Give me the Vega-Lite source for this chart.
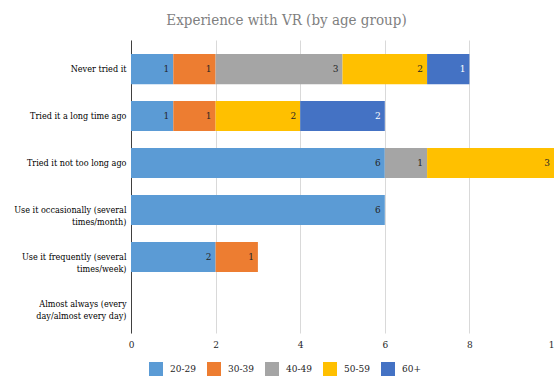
{
  "$schema": "https://vega.github.io/schema/vega-lite/v6.json",
  "autosize": {"type": "none"},
  "padding": {"left": 131, "top": 40, "right": 0, "bottom": 48},
  "width": 423,
  "height": 293,
  "background": "white",
  "config": {"view": {"stroke": null}, "font": "DejaVu Serif Condensed, DejaVu Serif"},
  "title": {
    "text": "Experience with VR (by age group)",
    "font": "DejaVu Serif Condensed, DejaVu Serif",
    "fontSize": 15,
    "fontWeight": "normal",
    "color": "#7f7f7f",
    "anchor": "middle",
    "dx": -56,
    "offset": 12
  },
  "data": {
    "values": [
      {"answer": "Never tried it", "age": "20-29", "count": 1},
      {"answer": "Never tried it", "age": "30-39", "count": 1},
      {"answer": "Never tried it", "age": "40-49", "count": 3},
      {"answer": "Never tried it", "age": "50-59", "count": 2},
      {"answer": "Never tried it", "age": "60+", "count": 1},
      {"answer": "Tried it a long time ago", "age": "20-29", "count": 1},
      {"answer": "Tried it a long time ago", "age": "30-39", "count": 1},
      {"answer": "Tried it a long time ago", "age": "50-59", "count": 2},
      {"answer": "Tried it a long time ago", "age": "60+", "count": 2},
      {"answer": "Tried it not too long ago", "age": "20-29", "count": 6},
      {"answer": "Tried it not too long ago", "age": "40-49", "count": 1},
      {"answer": "Tried it not too long ago", "age": "50-59", "count": 3},
      {"answer": "Use it occasionally (several times/month)", "age": "20-29", "count": 6},
      {"answer": "Use it frequently (several times/week)", "age": "20-29", "count": 2},
      {"answer": "Use it frequently (several times/week)", "age": "30-39", "count": 1}
    ]
  },
  "encoding": {
    "y": {
      "field": "answer",
      "type": "nominal",
      "scale": {
        "domain": [
          "Never tried it",
          "Tried it a long time ago",
          "Tried it not too long ago",
          "Use it occasionally (several times/month)",
          "Use it frequently (several times/week)",
          "Almost always (every day/almost every day)"
        ],
        "paddingInner": 0.36,
        "paddingOuter": 0.3
      },
      "axis": {
        "title": null,
        "ticks": false,
        "grid": false,
        "domainColor": "#404040",
        "labelPadding": 5,
        "labelFont": "DejaVu Serif Condensed, DejaVu Serif",
        "labelFontSize": 9,
        "labelColor": "#000000",
        "labelLimit": 250,
        "labelLineHeight": 12,
        "labelExpr": "datum.value == 'Use it occasionally (several times/month)' ? ['Use it occasionally (several', 'times/month)'] : datum.value == 'Use it frequently (several times/week)' ? ['Use it frequently (several', 'times/week)'] : datum.value == 'Almost always (every day/almost every day)' ? ['Almost always (every', 'day/almost every day)'] : datum.value"
      }
    },
    "x": {
      "field": "count",
      "type": "quantitative",
      "stack": "zero",
      "scale": {"domain": [0, 10], "nice": false},
      "axis": {
        "title": null,
        "domain": false,
        "ticks": false,
        "grid": true,
        "gridColor": "#d9d9d9",
        "values": [0, 2, 4, 6, 8, 10],
        "labelFlush": false,
        "labelFont": "DejaVu Serif Condensed, DejaVu Serif",
        "labelFontSize": 10,
        "labelColor": "#262626",
        "labelPadding": 6
      }
    },
    "order": {"field": "age"}
  },
  "layer": [
    {
      "mark": {"type": "bar"},
      "encoding": {
        "color": {
          "field": "age",
          "type": "nominal",
          "scale": {
            "domain": ["20-29", "30-39", "40-49", "50-59", "60+"],
            "range": ["#5b9bd5", "#ed7d31", "#a5a5a5", "#ffc000", "#4472c4"]
          },
          "legend": {
            "title": null,
            "orient": "none",
            "legendX": 18,
            "legendY": 322,
            "direction": "horizontal",
            "symbolType": "square",
            "symbolSize": 196,
            "symbolStrokeWidth": 0,
            "labelFont": "DejaVu Serif Condensed, DejaVu Serif",
            "labelFontSize": 10,
            "labelColor": "#262626",
            "labelOffset": 7,
            "columnPadding": 11,
            "gridAlign": "all"
          }
        }
      }
    },
    {
      "mark": {"type": "text", "align": "right", "baseline": "middle", "dx": -4, "font": "DejaVu Serif Condensed, DejaVu Serif", "fontSize": 10},
      "encoding": {
        "detail": {"field": "age"},
        "text": {"field": "count", "type": "quantitative"},
        "color": {"condition": {"test": "datum.age == '60+'", "value": "#ffffff"}, "value": "#262626"}
      }
    }
  ]
}
